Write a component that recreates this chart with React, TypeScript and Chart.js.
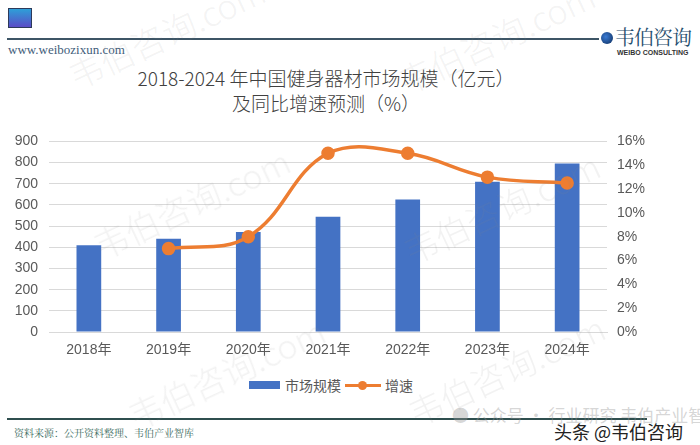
import React, { useEffect, useRef } from "react";
import { Chart, registerables } from "chart.js";

Chart.register(...registerables);

const categories = ["2018年", "2019年", "2020年", "2021年", "2022年", "2023年", "2024年"];
const marketSize = [410, 440, 472, 544, 626, 709, 796];
const growthRate: (number | null)[] = [null, 7, 8, 15, 15, 13, 12.5];
const leftMax = 900;
const leftStep = 100;
const rightMax = 16;
const rightStep = 2;

const titleLine1 = "2018-2024 年中国健身器材市场规模（亿元）";
const titleLine2 = "及同比增速预测（%）";
const legendBar = "市场规模";
const legendLine = "增速";
const sourceText = "资料来源：公开资料整理、韦伯产业智库";

const BAR = "#4472C4";
const LINE = "#ED7D31";
const TICK = "#595959";
const FONT = "'Liberation Sans', Arial, 'Noto Sans CJK SC', sans-serif";

const watermarks = [
  { x: 60, y: 55 },
  { x: 390, y: 60 },
  { x: 85, y: 225 },
  { x: 395, y: 230 },
  { x: 120, y: 395 },
  { x: 400, y: 392 },
];

export default function App() {
  const ref = useRef<HTMLCanvasElement | null>(null);

  useEffect(() => {
    if (!ref.current) return;
    const chart = new Chart(ref.current, {
      data: {
        labels: categories,
        datasets: [
          {
            type: "line",
            label: legendLine,
            data: growthRate,
            yAxisID: "y2",
            borderColor: LINE,
            backgroundColor: LINE,
            borderWidth: 3.5,
            pointRadius: 5,
            pointBackgroundColor: LINE,
            pointBorderColor: LINE,
            tension: 0.4,
            cubicInterpolationMode: "default",
            order: 0,
          },
          {
            type: "bar",
            label: legendBar,
            data: marketSize,
            yAxisID: "y",
            backgroundColor: BAR,
            barPercentage: 0.31,
            categoryPercentage: 1,
            order: 1,
          },
        ],
      },
      options: {
        responsive: true,
        maintainAspectRatio: false,
        animation: false,
        layout: { padding: 0 },
        plugins: {
          legend: { display: false },
          tooltip: { enabled: false },
          title: { display: false },
        },
        scales: {
          x: {
            grid: { display: false, drawTicks: false },
            border: { display: true, color: "#d9d9d9", width: 1 },
            ticks: { color: TICK, font: { family: FONT, size: 14 }, padding: 10, maxRotation: 0 },
            afterFit: (s: any) => {
              s.height = 38;
            },
          },
          y: {
            position: "left",
            min: 0,
            max: leftMax,
            ticks: { stepSize: leftStep, color: TICK, font: { family: FONT, size: 14 }, padding: 11 },
            grid: { color: "#d9d9d9", lineWidth: 1, drawTicks: false },
            border: { display: false },
            afterFit: (s: any) => {
              s.width = 49;
            },
          },
          y2: {
            position: "right",
            min: 0,
            max: rightMax,
            ticks: {
              stepSize: rightStep,
              color: TICK,
              font: { family: FONT, size: 14 },
              padding: 10,
              callback: (v: any) => `${v}%`,
            },
            grid: { display: false, drawTicks: false },
            border: { display: false },
            afterFit: (s: any) => {
              s.width = 93;
            },
          },
        },
      },
    } as any);
    return () => chart.destroy();
  }, []);

  return (
    <div
      style={{
        position: "fixed",
        left: 0,
        top: 0,
        width: 700,
        height: 445,
        background: "#ffffff",
        overflow: "hidden",
        fontFamily: FONT,
      }}
    >
      {/* header */}
      <div
        style={{
          position: "absolute",
          left: 8,
          top: 8,
          width: 22,
          height: 18,
          background: "linear-gradient(180deg, #2e9fd8 0%, #5a4cc6 100%)",
          border: "1px solid #2d3a5a",
        }}
      />
      <div style={{ position: "absolute", left: 7, top: 38, width: 592, height: 2, background: "#3d5566" }} />
      <div
        style={{
          position: "absolute",
          left: 8,
          top: 42,
          fontFamily: "'Liberation Serif', 'DejaVu Serif', serif",
          fontSize: 13,
          color: "#3f5d7a",
        }}
      >
        www.weibozixun.com
      </div>
      <div
        style={{
          position: "absolute",
          left: 601,
          top: 32,
          width: 12,
          height: 12,
          borderRadius: 6,
          background: "radial-gradient(circle at 40% 40%, #3a7bd5, #0d2c5a)",
        }}
      />
      <div
        style={{
          position: "absolute",
          left: 615,
          top: 22,
          fontFamily: "'Noto Serif CJK SC', 'Noto Sans CJK SC', serif",
          fontSize: 20,
          color: "#1f4e6e",
          letterSpacing: -1,
          whiteSpace: "nowrap",
        }}
      >
        韦伯咨询
      </div>
      <div
        style={{
          position: "absolute",
          left: 617,
          top: 49,
          fontSize: 7,
          fontWeight: 700,
          color: "#333",
          whiteSpace: "nowrap",
          fontFamily: FONT,
        }}
      >
        WEIBO CONSULTING
      </div>

      {/* title */}
      <div
        style={{
          position: "absolute",
          left: 0,
          width: 652,
          top: 65,
          textAlign: "center",
          fontFamily: "'Noto Sans CJK SC', sans-serif",
          fontWeight: 300,
          fontSize: 19,
          lineHeight: "25px",
          color: "#404040",
          whiteSpace: "nowrap",
        }}
      >
        <div>{titleLine1}</div>
        <div>{titleLine2}</div>
      </div>

      {/* chart */}
      <div style={{ position: "absolute", left: 0, top: 122, width: 700, height: 248 }}>
        <canvas ref={ref} />
      </div>

      {/* legend */}
      <div
        style={{
          position: "absolute",
          left: 249,
          top: 374,
          height: 22,
          display: "flex",
          alignItems: "center",
          fontFamily: "'Noto Sans CJK SC', sans-serif",
          fontSize: 14,
          color: TICK,
          whiteSpace: "nowrap",
        }}
      >
        <div style={{ width: 31, height: 8, background: BAR, marginRight: 5 }} />
        <span>{legendBar}</span>
        <div style={{ position: "relative", width: 36, height: 10, marginLeft: 4, marginRight: 4 }}>
          <div style={{ position: "absolute", left: 0, top: 4, width: 36, height: 3, background: LINE }} />
          <div
            style={{ position: "absolute", left: 13, top: 1, width: 9, height: 9, borderRadius: 5, background: LINE }}
          />
        </div>
        <span>{legendLine}</span>
      </div>

      {/* footer */}
      <div style={{ position: "absolute", left: 7, top: 418, width: 640, height: 2, background: "#2f4f4f" }} />
      <div
        style={{
          position: "absolute",
          left: 14,
          top: 425,
          fontFamily: "'Noto Serif CJK SC', 'Liberation Serif', serif",
          fontSize: 10,
          color: "#3a6b60",
          whiteSpace: "nowrap",
        }}
      >
        {sourceText}
      </div>
      <div
        style={{
          position: "absolute",
          left: 452,
          top: 402,
          fontFamily: "'Noto Sans CJK SC', sans-serif",
          fontSize: 17,
          color: "rgba(150,150,150,0.4)",
          whiteSpace: "nowrap",
        }}
      >
        ● 公众号 · 行业研究 韦伯产业智库
      </div>
      <div
        style={{
          position: "absolute",
          left: 554,
          top: 418,
          fontFamily: "'Noto Sans CJK SC', sans-serif",
          fontSize: 18,
          color: "#222",
          whiteSpace: "nowrap",
          textShadow: "0 0 2px #fff, 0 0 2px #fff",
        }}
      >
        头条 @韦伯咨询
      </div>

      {/* watermarks */}
      {watermarks.map((w, i) => (
        <div
          key={i}
          style={{
            position: "absolute",
            left: w.x,
            top: w.y,
            transform: "rotate(-25deg)",
            transformOrigin: "left top",
            fontFamily: "'Noto Sans CJK SC', sans-serif",
            fontSize: 34,
            fontWeight: 300,
            color: "rgba(140,140,140,0.11)",
            whiteSpace: "nowrap",
            pointerEvents: "none",
          }}
        >
          韦伯咨询.com
        </div>
      ))}
    </div>
  );
}
